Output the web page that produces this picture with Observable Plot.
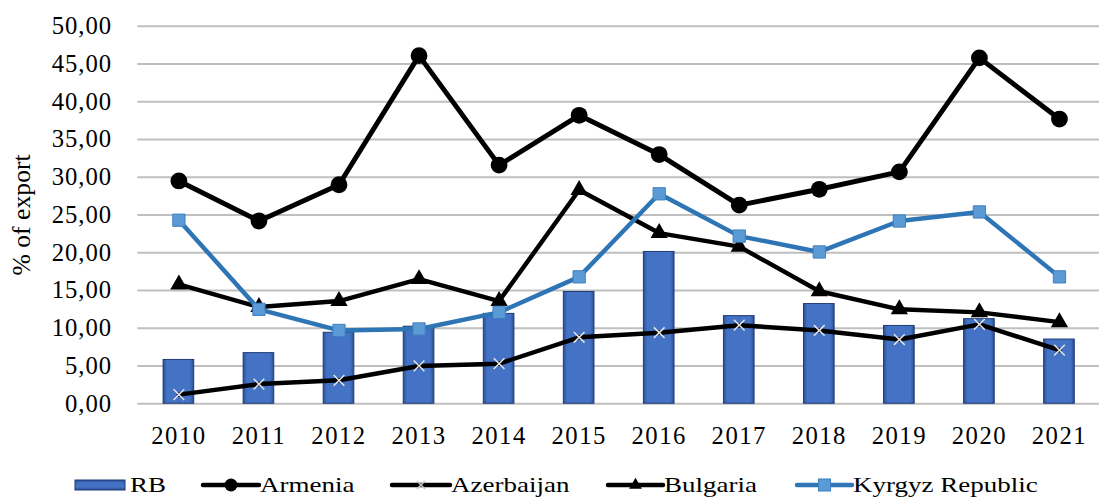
<!DOCTYPE html>
<html>
<head>
<meta charset="utf-8">
<script src="https://cdn.jsdelivr.net/npm/d3@7"></script>
<script src="https://cdn.jsdelivr.net/npm/@observablehq/plot@0.6"></script>
<style>
  html, body { margin: 0; padding: 0; background: #fff; overflow: hidden; width: 1099px; height: 500px; }
  #chart svg { display: block; }
  #legend { display: block; }
  g[aria-label="x-axis tick label"] text { letter-spacing: 1.5px; }
  g[aria-label="y-axis tick label"] text { letter-spacing: 1px; }
</style>
</head>
<body>
<div id="chart"></div>
<svg id="legend" width="1099" height="40"></svg>
<script>
const years = ["2010","2011","2012","2013","2014","2015","2016","2017","2018","2019","2020","2021"];
const rb = [5.8, 6.7, 9.4, 10.2, 11.9, 14.8, 20.1, 11.6, 13.2, 10.3, 11.2, 8.5];
const armenia = [29.5, 24.2, 29.0, 46.1, 31.6, 38.2, 33.0, 26.3, 28.4, 30.7, 45.8, 37.7];
const azerbaijan = [1.2, 2.6, 3.1, 5.0, 5.3, 8.8, 9.4, 10.4, 9.7, 8.5, 10.5, 7.1];
const bulgaria = [15.8, 12.8, 13.6, 16.5, 13.6, 28.3, 22.6, 20.8, 14.9, 12.5, 12.1, 10.8];
const kyrgyz = [24.3, 12.5, 9.7, 9.9, 12.1, 16.8, 27.8, 22.2, 20.1, 24.2, 25.4, 16.8];
const yTicks = [0, 5, 10, 15, 20, 25, 30, 35, 40, 45, 50];
const seriesNames = ["RB", "Armenia", "Azerbaijan", "Bulgaria", "Kyrgyz Republic"];
const yLabel = "% of export";

const toRows = (vals) => years.map((year, i) => ({year, value: vals[i]}));
const rbRows = toRows(rb), armRows = toRows(armenia), azeRows = toRows(azerbaijan),
      bulRows = toRows(bulgaria), kyrRows = toRows(kyrgyz);
const fmt = d => d.toFixed(2).replace(".", ",");
const FONT = "'Liberation Serif', 'Times New Roman', serif";

const chart = Plot.plot({
  width: 1112, height: 460,
  marginTop: 26, marginBottom: 52, marginLeft: 139, marginRight: 0,
  style: {fontFamily: FONT, fontSize: "25px", color: "#000", background: "#fff", overflow: "visible"},
  x: {type: "band", domain: years, paddingInner: 0.618, paddingOuter: 0.309, label: null, axis: null},
  y: {domain: [0, 50], label: null, axis: null},
  marks: [
    Plot.ruleY(yTicks, {stroke: "#BFBFBF", strokeWidth: 2}),
    Plot.axisY(yTicks, {tickSize: 0, tickPadding: 26, tickFormat: fmt, fontSize: 25, label: null}),
    Plot.axisX({tickSize: 0, tickPadding: 23, fontSize: 25, label: null}),
    Plot.text([yLabel], {frameAnchor: "left", rotate: -90, dx: -117, fontSize: 26, textAnchor: "middle", lineAnchor: "middle", fill: "#000"}),
    Plot.barY(rbRows, {x: "year", y: "value", fill: "url(#rbGrad)", stroke: "#1F3A75", strokeWidth: 1}),
    Plot.line(armRows, {x: "year", y: "value", stroke: "#000", strokeWidth: 5}),
    Plot.dot(armRows, {x: "year", y: "value", r: 8.5, fill: "#000", symbol: "circle"}),
    Plot.line(azeRows, {x: "year", y: "value", stroke: "#000", strokeWidth: 4.5}),
    Plot.dot(azeRows, {x: "year", y: "value", r: 5, stroke: "#E6E6E6", strokeWidth: 1.5, symbol: "times"}),
    Plot.line(bulRows, {x: "year", y: "value", stroke: "#000", strokeWidth: 4.5}),
    Plot.dot(bulRows, {x: "year", y: "value", r: 6.5, fill: "#000", symbol: "triangle"}),
    Plot.line(kyrRows, {x: "year", y: "value", stroke: "#2E75B6", strokeWidth: 4.5}),
    Plot.dot(kyrRows, {x: "year", y: "value", r: 7, fill: "#5B9BD5", stroke: "#3F7FC0", strokeWidth: 1, symbol: "square"})
  ]
});
document.getElementById("chart").appendChild(chart);

// gradient for bars (Excel-like edge shading)
const defs = d3.select(chart).insert("defs", ":first-child");
const grad = defs.append("linearGradient").attr("id", "rbGrad").attr("x1", "0").attr("x2", "1").attr("y1", "0").attr("y2", "0");
[[0, "#2B4F94"], [0.12, "#4472C4"], [0.88, "#4472C4"], [1, "#2B4F94"]].forEach(([o, c]) =>
  grad.append("stop").attr("offset", o).attr("stop-color", c));

// legend
const lg = d3.select("#legend");
const lgDefs = lg.append("defs");
const g2 = lgDefs.append("linearGradient").attr("id", "rbGradL").attr("x1", "0").attr("x2", "0").attr("y1", "0").attr("y2", "1");
[[0, "#2B4F94"], [0.3, "#4472C4"], [0.7, "#4472C4"], [1, "#2B4F94"]].forEach(([o, c]) =>
  g2.append("stop").attr("offset", o).attr("stop-color", c));
const cy = 27;
const items = [
  {name: seriesNames[0], sx: 75, ex: 125, tx: 130, kind: "bar"},
  {name: seriesNames[1], sx: 203, ex: 259, tx: 260, kind: "circle"},
  {name: seriesNames[2], sx: 392, ex: 450, tx: 451, kind: "times"},
  {name: seriesNames[3], sx: 608, ex: 663, tx: 664, kind: "triangle"},
  {name: seriesNames[4], sx: 797, ex: 852, tx: 853, kind: "square"}
];
items.forEach(it => {
  const mx = (it.sx + it.ex) / 2;
  if (it.kind === "bar") {
    lg.append("rect").attr("x", it.sx).attr("y", cy - 5).attr("width", it.ex - it.sx).attr("height", 10)
      .attr("fill", "url(#rbGradL)").attr("stroke", "#1F3A75").attr("stroke-width", 1);
  } else {
    const col = it.kind === "square" ? "#2E75B6" : "#000";
    lg.append("line").attr("x1", it.sx).attr("x2", it.ex).attr("y1", cy).attr("y2", cy)
      .attr("stroke", col).attr("stroke-width", 4.5).attr("stroke-linecap", "round");
    if (it.kind === "circle") {
      lg.append("circle").attr("cx", mx).attr("cy", cy).attr("r", 6.5).attr("fill", "#000");
    } else if (it.kind === "times") {
      lg.append("path").attr("d", `M${mx-4},${cy-4}L${mx+4},${cy+4}M${mx-4},${cy+4}L${mx+4},${cy-4}`)
        .attr("stroke", "#C8C8C8").attr("stroke-width", 1.5);
    } else if (it.kind === "triangle") {
      lg.append("path").attr("d", d3.symbol(d3.symbolTriangle, 70)()).attr("transform", `translate(${mx},${cy})`).attr("fill", "#000");
    } else if (it.kind === "square") {
      lg.append("rect").attr("x", mx - 6).attr("y", cy - 6).attr("width", 12).attr("height", 12)
        .attr("fill", "#5B9BD5").attr("stroke", "#3F7FC0");
    }
  }
  lg.append("text").attr("transform", `translate(${it.tx},${cy + 7}) scale(1.35,1)`)
    .attr("font-family", FONT).attr("font-size", 20).attr("fill", "#000").text(it.name);
});
// shift legend slightly down to match reference baseline
lg.attr("style", "margin-top:3px;display:block");
</script>
</body>
</html>
